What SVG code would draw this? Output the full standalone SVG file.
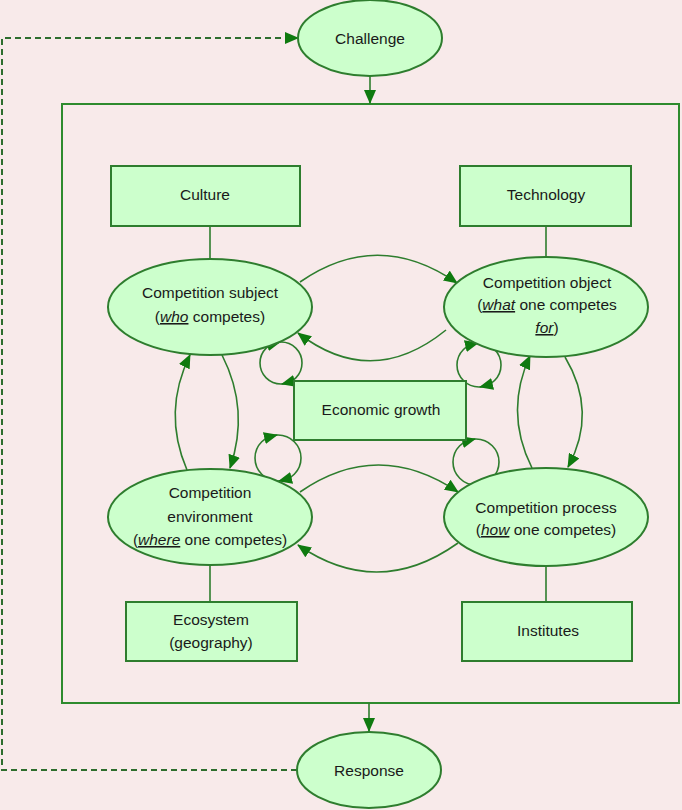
<svg xmlns="http://www.w3.org/2000/svg" width="682" height="810" viewBox="0 0 682 810">
<defs>
<marker id="ah" markerUnits="userSpaceOnUse" markerWidth="14" markerHeight="12" viewBox="0 0 14 12" refX="13" refY="6" orient="auto">
<path d="M0,0 L14,6 L0,12 z" fill="#0f7a0f"/>
</marker>
</defs>
<style>
.bg{fill:#f8eaea}
.node{fill:#ccffcc;stroke:#2e7d2e;stroke-width:2}
.frame{fill:none;stroke:#2e8b2e;stroke-width:2}
.lnk{fill:none;stroke:#2e7d2e;stroke-width:1.6}
.arr{fill:none;stroke:#2e7d2e;stroke-width:1.6;marker-end:url(#ah)}
.dash{fill:none;stroke:#2e6e2e;stroke-width:2;stroke-dasharray:6,4}
text{font-family:"Liberation Sans",Arial,sans-serif;font-size:15.5px;fill:#1a1a1a;text-anchor:middle}
.em{font-style:italic;text-decoration:underline}
</style>
<rect class="bg" x="0" y="0" width="682" height="810"/>
<rect class="frame" x="62" y="104" width="617" height="599"/>

<g id="connectors">
<path class="dash" d="M297,770 L2,770 L2,38 L296,38"/>
<path class="arr" d="M297,38 L298,38"/>
<path class="arr" d="M370,76 L370,103"/>
<path class="arr" d="M369,703 L369,731"/>
<path class="lnk" d="M210,226 L210,259"/>
<path class="lnk" d="M546,226 L546,257"/>
<path class="lnk" d="M210,565 L210,602"/>
<path class="lnk" d="M546,566 L546,602"/>
<path class="arr" d="M300,282 Q378,228 457,283"/>
<path class="arr" d="M446,330 Q372,390 298,333"/>
<path class="arr" d="M222,355 Q250,410 230,468"/>
<path class="arr" d="M187,470 Q162,412 190,355"/>
<path class="arr" d="M565,357 Q598,412 568,467"/>
<path class="arr" d="M532,468 Q504,412 530,356"/>
<path class="arr" d="M300,492 Q378,438 458,492"/>
<path class="arr" d="M458,543 Q378,600 298,545"/>
<circle class="lnk" cx="281" cy="363" r="21"/>
<path class="arr" d="M270,344.5 L280,342"/>
<path class="arr" d="M292,381.5 L282,384"/>
<circle class="lnk" cx="479" cy="365" r="22"/>
<path class="arr" d="M468,345.5 L478,343"/>
<path class="arr" d="M490,384.5 L480,387"/>
<circle class="lnk" cx="278" cy="458" r="23"/>
<path class="arr" d="M267,437.5 L277,435"/>
<path class="arr" d="M289,478.5 L279,481"/>
<circle class="lnk" cx="476" cy="462" r="23"/>
<path class="arr" d="M465,441.5 L475,439"/>
<path class="arr" d="M487,482.5 L477,485"/>
</g>

<g id="challenge">
<ellipse class="node" cx="370" cy="38" rx="72" ry="38"/>
<text x="370" y="44">Challenge</text>
</g>
<g id="response">
<ellipse class="node" cx="369" cy="770" rx="72" ry="38"/>
<text x="369" y="776">Response</text>
</g>
<g id="culture">
<rect class="node" x="111" y="166" width="189" height="60"/>
<text x="205" y="200">Culture</text>
</g>
<g id="technology">
<rect class="node" x="460" y="166" width="171" height="60"/>
<text x="546" y="200">Technology</text>
</g>
<g id="ecosystem">
<rect class="node" x="126" y="602" width="171" height="59"/>
<text x="211" y="625">Ecosystem</text>
<text x="211" y="648">(geography)</text>
</g>
<g id="institutes">
<rect class="node" x="462" y="602" width="170" height="59"/>
<text x="548" y="636">Institutes</text>
</g>
<g id="economic-growth">
<rect class="node" x="294" y="381" width="172" height="59"/>
<text x="381" y="415">Economic growth</text>
</g>
<g id="subject">
<ellipse class="node" cx="210" cy="307" rx="102" ry="48"/>
<text x="210" y="298">Competition subject</text>
<text x="210" y="322">(<tspan class="em">who</tspan> competes)</text>
</g>
<g id="object">
<ellipse class="node" cx="546" cy="307" rx="102" ry="50"/>
<text x="547" y="288">Competition object</text>
<text x="547" y="310">(<tspan class="em">what</tspan> one competes</text>
<text x="547" y="333"><tspan class="em">for</tspan>)</text>
</g>
<g id="environment">
<ellipse class="node" cx="210" cy="517" rx="102" ry="48"/>
<text x="210" y="498">Competition</text>
<text x="210" y="522">environment</text>
<text x="210" y="545">(<tspan class="em">where</tspan> one competes)</text>
</g>
<g id="process">
<ellipse class="node" cx="546" cy="517" rx="102" ry="49"/>
<text x="546" y="513">Competition process</text>
<text x="546" y="535">(<tspan class="em">how</tspan> one competes)</text>
</g>
</svg>
